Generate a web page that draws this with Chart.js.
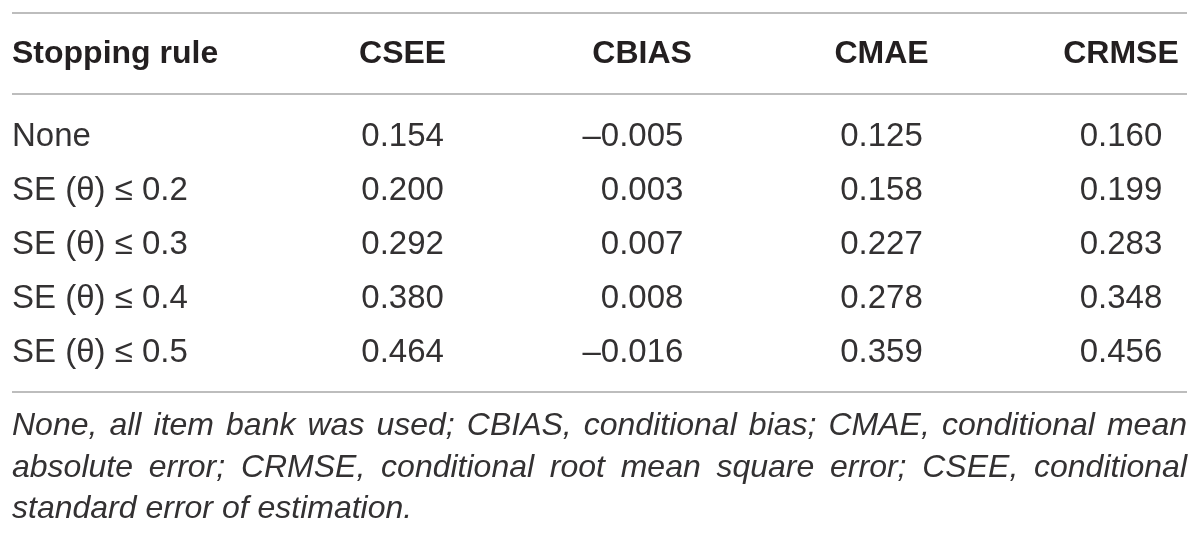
<!DOCTYPE html>
<html>
<head>
<meta charset="utf-8">
<script src="https://cdn.jsdelivr.net/npm/chart.js@4"></script>
<style>
  html, body { margin: 0; padding: 0; background: #fff; }
  #wrap { width: 1200px; height: 534px; position: relative; }
</style>
</head>
<body>
<div id="wrap"><canvas id="tbl"></canvas></div>
<script>
// Table content
const rules = ['None', 'SE (θ) ≤ 0.2', 'SE (θ) ≤ 0.3', 'SE (θ) ≤ 0.4', 'SE (θ) ≤ 0.5'];
const measures = ['CSEE', 'CBIAS', 'CMAE', 'CRMSE'];
const csee = [0.154, 0.200, 0.292, 0.380, 0.464];
const cbias = [-0.005, 0.003, 0.007, 0.008, -0.016];
const cmae = [0.125, 0.158, 0.227, 0.278, 0.359];
const crmse = [0.160, 0.199, 0.283, 0.348, 0.456];
const rowHeader = 'Stopping rule';
const noteLines = [
  'None, all item bank was used; CBIAS, conditional bias; CMAE, conditional mean',
  'absolute error; CRMSE, conditional root mean square error; CSEE, conditional',
  'standard error of estimation.'
];

const FAM = "'Liberation Sans', Arial, Helvetica, sans-serif";
const INK = '#231f20';
const BODY = '#333132';
const RULE = '#bdbdbd';

const fmt = v => (v < 0 ? '\u2013' : '') + Math.abs(v).toFixed(3);

const columns = [csee, cbias, cmae, crmse];
const datasets = columns.map((vals, c) => ({
  label: measures[c],
  data: vals.map((v, r) => ({x: measures[c], y: rules[r], v: v})),
  showLine: false,
  pointRadius: 0,
  pointHoverRadius: 0
}));

// draws rules, the corner header, cell texts and the footnote
const tablePlugin = {
  id: 'tablePlugin',
  afterDatasetsDraw(chart) {
    const {ctx, chartArea} = chart;
    const yScale = chart.scales.y;
    const left = yScale.left;
    const right = chart.width - 13;
    const bottomRule = chartArea.bottom + 12.5;
    ctx.save();

    // horizontal rules
    ctx.strokeStyle = RULE;
    ctx.lineWidth = 2;
    [13, chartArea.top - 15.5, bottomRule].forEach(y => {
      ctx.beginPath();
      ctx.moveTo(left, y);
      ctx.lineTo(right, y);
      ctx.stroke();
    });

    // corner header
    ctx.fillStyle = INK;
    ctx.font = 'bold 32px ' + FAM;
    ctx.textAlign = 'left';
    ctx.textBaseline = 'middle';
    ctx.fillText(rowHeader, left, chartArea.top - 55);

    // cell values: right edge of a positive number sits centred on the column
    ctx.fillStyle = BODY;
    ctx.font = '33px ' + FAM;
    const half = ctx.measureText('0.000').width / 2;
    ctx.textAlign = 'right';
    chart.data.datasets.forEach((ds, i) => {
      chart.getDatasetMeta(i).data.forEach((pt, j) => {
        ctx.fillText(fmt(ds.data[j].v), pt.x + half, pt.y);
      });
    });

    // footnote, justified except last line
    ctx.font = 'italic 32px ' + FAM;
    ctx.textAlign = 'left';
    ctx.textBaseline = 'alphabetic';
    const width = right - left;
    noteLines.forEach((line, k) => {
      const y = bottomRule + 43 + k * 41.5;
      const words = line.split(' ');
      if (k === noteLines.length - 1) {
        ctx.fillText(line, left, y);
        return;
      }
      const wordsW = words.reduce((s, w) => s + ctx.measureText(w).width, 0);
      const gap = (width - wordsW) / (words.length - 1);
      let x = left;
      words.forEach(w => {
        ctx.fillText(w, x, y);
        x += ctx.measureText(w).width + gap;
      });
    });
    ctx.restore();
  }
};

new Chart(document.getElementById('tbl'), {
  type: 'line',
  data: {datasets: datasets},
  options: {
    responsive: true,
    maintainAspectRatio: false,
    animation: false,
    events: [],
    layout: {padding: {left: 12, right: 79, top: 1.5, bottom: 154.5}},
    plugins: {legend: {display: false}, tooltip: {enabled: false}},
    scales: {
      x: {
        type: 'category',
        labels: measures,
        position: 'top',
        offset: false,
        grid: {display: false, drawTicks: false},
        border: {display: false},
        ticks: {
          color: INK, padding: 39, maxRotation: 0, autoSkip: false,
          font: {family: FAM, size: 32, weight: 'bold', lineHeight: 1}
        },
        afterFit: s => { s.height = 108; s.paddingLeft = 0; s.paddingRight = 0; }
      },
      y: {
        type: 'category',
        labels: rules,
        offset: true,
        grid: {display: false, drawTicks: false},
        border: {display: false},
        ticks: {
          color: BODY, crossAlign: 'far', padding: 0, autoSkip: false,
          font: {family: FAM, size: 33, lineHeight: 1}
        },
        afterFit: s => { s.width = 390.6; }
      }
    }
  },
  plugins: [tablePlugin]
});
</script>
</body>
</html>
